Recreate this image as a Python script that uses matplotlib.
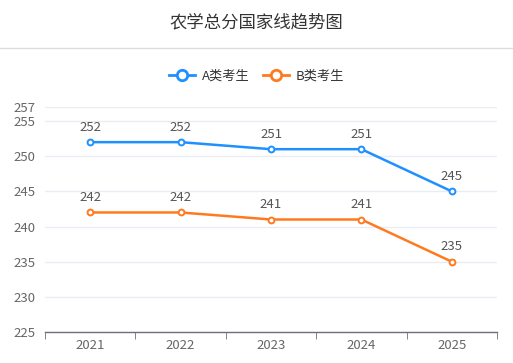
import matplotlib
matplotlib.use("Agg")
import matplotlib.pyplot as plt
from matplotlib.lines import Line2D

plt.rcParams['font.family'] = ['Noto Sans CJK SC', 'DejaVu Sans']

title = "农学总分国家线趋势图"
years = ["2021", "2022", "2023", "2024", "2025"]
series_names = ["A类考生", "B类考生"]
a_scores = [252, 252, 251, 251, 245]
b_scores = [242, 242, 241, 241, 235]
y_ticks = [225, 230, 235, 240, 245, 250, 255, 257]
colors = ["#1E90FF", "#FF7A1F"]

W, H = 513, 363
fig = plt.figure(figsize=(W/100, H/100), dpi=100)
ax = fig.add_axes([45/W, (H-332)/H, (497-45)/W, (332-107)/H])

x = list(range(len(years)))
for vals, name, c in zip([a_scores, b_scores], series_names, colors):
    ax.plot(x, vals, color=c, lw=1.8, marker='o', ms=4.2, mfc='white', mec=c, mew=1.4,
            label=name, zorder=3)
    for xi, v in zip(x, vals):
        ax.annotate(str(v), (xi, v), xytext=(0, 6), textcoords='offset points',
                    ha='center', va='bottom', fontsize=9.5, color='#555555')

ax.set_xlim(-0.5, len(years) - 0.5)
ax.set_ylim(225, 257)
ax.set_yticks(y_ticks)
ax.set_yticklabels([str(t) for t in y_ticks])
ax.set_xticks(x)
ax.set_xticklabels(years)
ax.set_xticks([i - 0.5 for i in range(len(years) + 1)], minor=True)
ax.tick_params(axis='x', which='major', length=0, labelsize=9.5, labelcolor='#666666', pad=5)
ax.tick_params(axis='x', which='minor', length=5, color='#6E7079', direction='out')
ax.tick_params(axis='y', length=0, labelsize=9.5, labelcolor='#666666', pad=7)
for t in y_ticks:
    ax.axhline(t, color='#E9ECF3', lw=1, zorder=1)
for s in ['top', 'right', 'left']:
    ax.spines[s].set_visible(False)
ax.spines['bottom'].set_color('#6E7079')
ax.spines['bottom'].set_linewidth(1)

fig.text(0.5, 1 - 22/H, title, ha='center', va='center', fontsize=12.5, color='#333333')
fig.add_artist(Line2D([0, 1], [1 - 48/H, 1 - 48/H], color='#DDDDDD', lw=1, transform=fig.transFigure))

handles = [Line2D([], [], color=c, lw=2, marker='o', ms=7.5, mfc='white', mec=c, mew=2)
           for c in colors]
fig.legend(handles, series_names, loc='center', bbox_to_anchor=(0.5, 1 - 76/H),
           ncol=2, frameon=False, fontsize=9.5, handlelength=2.0, columnspacing=1.0,
           handletextpad=0.5, labelcolor='#333333')

fig.savefig("out.png", dpi=100)
